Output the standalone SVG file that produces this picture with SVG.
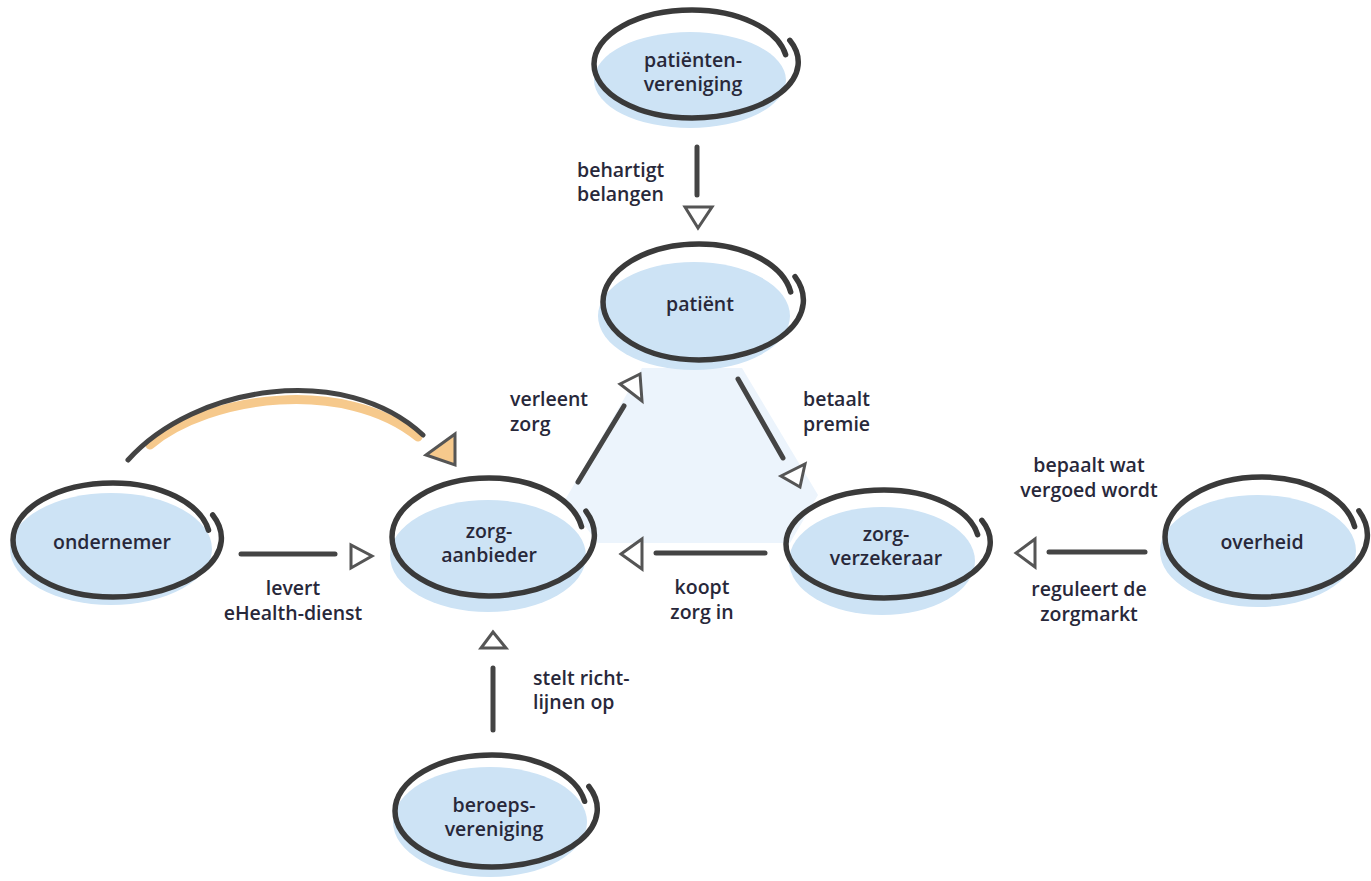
<svg xmlns="http://www.w3.org/2000/svg" width="1371" height="881" viewBox="0 0 1371 881">
  <style>
    .fill { fill: #cde3f5; }
    .ring { fill: none; stroke: #3a3a3a; stroke-width: 5.5; stroke-linecap: round; stroke-linejoin: round; }
    .edge { fill: none; stroke: #444444; stroke-width: 5; stroke-linecap: round; }
    .head { fill: #ffffff; stroke: #555555; stroke-width: 3; stroke-linejoin: miter; }
    .head-warm { fill: #f6c98c; stroke: #555555; stroke-width: 3; stroke-linejoin: miter; }
    .glow { fill: none; stroke: #f6c98c; stroke-width: 9; stroke-linecap: round; }
    text { font-family: "Open Sans", "Liberation Sans", sans-serif; font-weight: 600; font-size: 19.5px; fill: #28283a; }
    .mid { text-anchor: middle; }
  </style>

  <rect x="0" y="0" width="1371" height="881" fill="#ffffff"/>

  <!-- pale area between the three core parties -->
  <polygon points="642,368 742,368 818,495 790,543 598,543 565,500" fill="#ecf4fc"/>

  <!-- connectors -->
  <g id="connectors">
    <!-- patiëntenvereniging -> patiënt -->
    <line class="edge" x1="697" y1="147" x2="697" y2="195"/>
    <polygon class="head" points="685,207 712,207 698,228"/>
    <!-- zorgaanbieder -> patiënt -->
    <line class="edge" x1="578" y1="482" x2="624" y2="406"/>
    <polygon class="head" points="620,384 640,374 642,401"/>
    <!-- patiënt -> zorgverzekeraar -->
    <line class="edge" x1="738" y1="379" x2="783" y2="458"/>
    <polygon class="head" points="781,476 805,464 800,487"/>
    <!-- ondernemer -> zorgaanbieder -->
    <line class="edge" x1="241" y1="554" x2="335" y2="554"/>
    <polygon class="head" points="351,545 351,568 372,556"/>
    <!-- zorgverzekeraar -> zorgaanbieder -->
    <line class="edge" x1="656" y1="553" x2="765" y2="553"/>
    <polygon class="head" points="642,539 642,569 621,554"/>
    <!-- overheid -> zorgverzekeraar -->
    <line class="edge" x1="1049" y1="552" x2="1145" y2="552"/>
    <polygon class="head" points="1035,539 1035,567 1016,553"/>
    <!-- beroepsvereniging -> zorgaanbieder -->
    <line class="edge" x1="493" y1="668" x2="493" y2="730"/>
    <polygon class="head" points="481,648 506,648 493,632"/>
    <!-- ondernemer arc over zorgaanbieder -->
    <path class="glow" d="M150,445 C210,395 345,378 418,437"/>
    <path class="edge" d="M128,460 C195,385 345,362 423,435" stroke-width="6"/>
    <polygon class="head-warm" points="426,455 455,434 455,465"/>

    <!-- edge labels -->
    <text x="577" y="177">behartigt</text>
    <text x="577" y="201">belangen</text>
    <text x="510" y="406">verleent</text>
    <text x="510" y="431">zorg</text>
    <text x="803" y="406">betaalt</text>
    <text x="803" y="431">premie</text>
    <text class="mid" x="293" y="595">levert</text>
    <text class="mid" x="293" y="620">eHealth-dienst</text>
    <text class="mid" x="702" y="594">koopt</text>
    <text class="mid" x="702" y="619">zorg in</text>
    <text class="mid" x="1089" y="472">bepaalt wat</text>
    <text class="mid" x="1089" y="497">vergoed wordt</text>
    <text class="mid" x="1089" y="596">reguleert de</text>
    <text class="mid" x="1089" y="621">zorgmarkt</text>
    <text x="533" y="685">stelt richt-</text>
    <text x="533" y="709">lijnen op</text>
  </g>

  <!-- nodes -->
  <g id="patientenvereniging">
    <ellipse class="fill" cx="690" cy="80" rx="96" ry="48"/>
    <path class="ring" transform="translate(692,64)" d="M97.8,-23.7 A108,56 0 0 1 0,54 A98,54 0 0 1 -98,0 A98,54 0 0 1 0,-54 A95,54 0 0 1 93.6,-9.4"/>
    <text class="mid" x="693" y="67">patiënten-</text>
    <text class="mid" x="693" y="91">vereniging</text>
  </g>

  <g id="patient">
    <ellipse class="fill" cx="694" cy="316" rx="96" ry="54"/>
    <path class="ring" transform="translate(699,302)" d="M96,-25.4 A106,60 0 0 1 0,58 A96,58 0 0 1 -96,0 A96,58 0 0 1 0,-58 A93,58 0 0 1 91.7,-10.1"/>
    <text class="mid" x="700" y="311">patiënt</text>
  </g>

  <g id="ondernemer">
    <ellipse class="fill" cx="111" cy="549" rx="101" ry="56"/>
    <path class="ring" transform="translate(113,540)" d="M99.7,-25 A110,59 0 0 1 0,57 A100,57 0 0 1 -100,0 A100,57 0 0 1 0,-57 A97,57 0 0 1 95.5,-9.9"/>
    <text class="mid" x="112" y="549">ondernemer</text>
  </g>

  <g id="zorgaanbieder">
    <ellipse class="fill" cx="488" cy="556" rx="98" ry="56"/>
    <path class="ring" transform="translate(489,537)" d="M96.9,-25.8 A107,61 0 0 1 0,59 A97,59 0 0 1 -97,0 A97,59 0 0 1 0,-59 A94,59 0 0 1 92.6,-10.3"/>
    <text class="mid" x="489" y="538">zorg-</text>
    <text class="mid" x="489" y="562">aanbieder</text>
  </g>

  <g id="zorgverzekeraar">
    <ellipse class="fill" cx="882" cy="561" rx="93" ry="54"/>
    <path class="ring" transform="translate(884,544)" d="M97.8,-23.7 A108,56 0 0 1 0,54 A98,54 0 0 1 -98,0 A98,54 0 0 1 0,-54 A95,54 0 0 1 93.6,-9.4"/>
    <text class="mid" x="886" y="541">zorg-</text>
    <text class="mid" x="886" y="565">verzekeraar</text>
  </g>

  <g id="overheid">
    <ellipse class="fill" cx="1258" cy="551" rx="98" ry="56"/>
    <path class="ring" transform="translate(1262,537)" d="M96.9,-26.2 A107,62 0 0 1 0,60 A97,60 0 0 1 -97,0 A97,60 0 0 1 0,-60 A94,60 0 0 1 92.6,-10.4"/>
    <text class="mid" x="1262" y="549">overheid</text>
  </g>

  <g id="beroepsvereniging">
    <ellipse class="fill" cx="490" cy="822" rx="97" ry="55"/>
    <path class="ring" transform="translate(492,811)" d="M96.9,-24.5 A107,58 0 0 1 0,56 A97,56 0 0 1 -97,0 A97,56 0 0 1 0,-56 A94,56 0 0 1 92.6,-9.7"/>
    <text class="mid" x="494" y="812">beroeps-</text>
    <text class="mid" x="494" y="836">vereniging</text>
  </g>
</svg>
